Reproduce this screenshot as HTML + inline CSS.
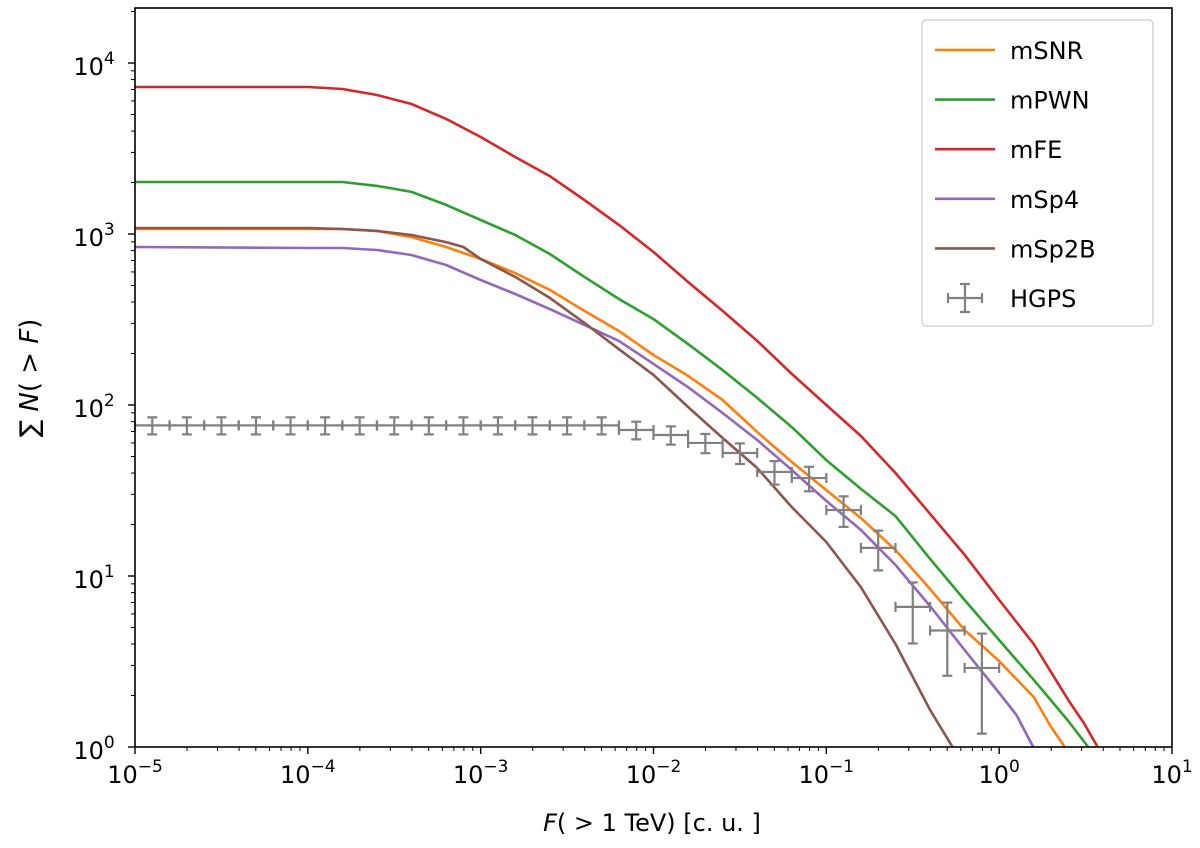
<!DOCTYPE html>
<html><head><meta charset="utf-8">
<style>
html,body{margin:0;padding:0;background:#fff;}
svg{display:block;font-family:"DejaVu Sans","Liberation Sans",sans-serif;}
</style></head>
<body>
<svg id="chart" width="1200" height="848">
  <rect x="135" y="8" width="1037" height="739" fill="#fff" stroke="none"/>
  <g id="grid-ticks"></g>
  <g id="series"></g>
  <g id="hgps"></g>
  <rect x="135" y="8" width="1037" height="739" fill="none" stroke="#000" stroke-width="1.6"/>
  <text x="652" y="831" font-size="24" text-anchor="middle"><tspan font-style="italic">F</tspan>( &gt; 1 TeV) [c. u. ]</text>
  <text transform="translate(38,378) rotate(-90)" font-size="26" text-anchor="middle">∑ <tspan font-style="italic">N</tspan>( &gt; <tspan font-style="italic">F</tspan>)</text>
  <g id="legend">
    <rect x="922" y="20" width="231" height="306" rx="4" fill="#fff" fill-opacity="0.8" stroke="#ccc" stroke-width="1.2"/>
  </g>
</svg>
<script>
// x values are log10(F); y values are counts N(>F)
const redX = [-5,-4,-3.8,-3.6,-3.4,-3.2,-3,-2.8,-2.6,-2.4,-2.2,-2,-1.8,-1.6,-1.4,-1.2,-1,-0.8,-0.6,-0.4,-0.2,0,0.2,0.4,0.49,0.57];
const redY = [7240,7240,7050,6500,5760,4710,3690,2820,2180,1580,1130,785,524,355,237,152,100,65.9,40,23.1,13.3,7.24,4.0,1.88,1.38,1];
const greenX = [-5,-4,-3.8,-3.6,-3.4,-3.2,-3,-2.8,-2.6,-2.4,-2.2,-2,-1.8,-1.6,-1.4,-1.2,-1,-0.8,-0.6,-0.4,-0.2,0,0.2,0.4,0.515];
const greenY = [2014,2014,2014,1910,1762,1480,1208,986,764,561,417,318,227,160,110,74.3,47.6,32.3,22.4,12.6,7.24,4.22,2.47,1.42,1];
const orangeX = [-5,-4,-3.8,-3.6,-3.4,-3.2,-3,-2.8,-2.6,-2.4,-2.2,-2,-1.8,-1.6,-1.4,-1.2,-1,-0.8,-0.6,-0.4,-0.2,0,0.2,0.3,0.38];
const orangeY = [1070,1070,1070,1043,959,839,714,591,471,355,271,196,148,107,69.5,46.4,31.8,21.8,14.2,8.4,4.83,3.18,1.96,1.31,1];
const purpleX = [-5,-4,-3.8,-3.6,-3.4,-3.2,-3,-2.8,-2.6,-2.4,-2.2,-2,-1.8,-1.6,-1.4,-1.2,-1,-0.8,-0.6,-0.4,-0.2,0,0.1,0.197];
const purpleY = [839,828,828,806,754,659,538,446,364,294,237,174,127,89.8,62.4,41.7,27.5,18.6,11.6,6.68,3.69,2.07,1.54,1];
const brownX = [-5,-4,-3.8,-3.6,-3.4,-3.2,-3.1,-3,-2.8,-2.6,-2.4,-2.2,-2,-1.8,-1.6,-1.4,-1.2,-1,-0.8,-0.6,-0.4,-0.27];
const brownY = [1084,1084,1070,1043,986,897,839,714,561,423,302,212,150,97.3,64.1,42.8,25.3,15.8,8.6,4.0,1.65,1];
const hgpsX = [-4.9,-4.7,-4.5,-4.3,-4.1,-3.9,-3.7,-3.5,-3.3,-3.1,-2.9,-2.7,-2.5,-2.3,-2.1,-1.9,-1.7,-1.5,-1.3,-1.1,-0.9,-0.7,-0.5,-0.3,-0.1];
const hgpsY = [76,76,76,76,76,76,76,76,76,76,76,76,76,76,71.4,66.8,60,52.4,40.6,37.4,24.3,14.6,6.6,4.8,2.9];
const xTickExp = [-5,-4,-3,-2,-1,0,1];
const yTickExp = [0,1,2,3,4];
const seriesNames = ["mSNR","mPWN","mFE","mSp4","mSp2B"];

const NS="http://www.w3.org/2000/svg";
const X0=135,X1=1172,XMIN=-5,XMAX=1,Y0=747,PPD=171;
const sx=l=>X0+(l-XMIN)/(XMAX-XMIN)*(X1-X0);
const sy=v=>Y0-Math.log10(v)*PPD;
function mk(tag,attrs,parent){const e=document.createElementNS(NS,tag);for(const k in attrs)e.setAttribute(k,attrs[k]);parent.appendChild(e);return e;}

const gt=document.getElementById('grid-ticks');
xTickExp.forEach(e=>{
  const x=sx(e);
  const t=mk('line',{x1:x,x2:x,y1:747,y2:754,stroke:'#000','stroke-width':1.4},gt);
  
  
  for(let m=2;m<10&&e<XMAX;m++){const xm=sx(e+Math.log10(m));const mt=mk('line',{x1:xm,x2:xm,y1:747,y2:751,stroke:'#000','stroke-width':1},gt);
    
    }
  const tx=mk('text',{x:x,y:783,'font-size':24,'text-anchor':'middle'},gt);
  
  
  tx.innerHTML='10<tspan dy="-11" font-size="17">'+(e<0?'−':'')+Math.abs(e)+'</tspan>';
});
yTickExp.forEach(e=>{
  const y=Y0-e*PPD;
  const t=mk('line',{x1:128,x2:135,y1:y,y2:y,stroke:'#000','stroke-width':1.4},gt);
  
  
  for(let m=2;m<10;m++){const ym=y-Math.log10(m)*PPD;if(ym<8)break;const mt=mk('line',{x1:131,x2:135,y1:ym,y2:ym,stroke:'#000','stroke-width':1},gt);
    
    }
  const tx=mk('text',{x:94,y:y+12,'font-size':24,'text-anchor':'middle'},gt);
  
  
  tx.innerHTML='10<tspan dy="-11" font-size="17">'+e+'</tspan>';
});

const sg=document.getElementById('series');
const defs=[[orangeX,orangeY,'#ff7f0e'],[greenX,greenY,'#2ca02c'],[redX,redY,'#d62728'],[purpleX,purpleY,'#9467bd'],[brownX,brownY,'#8c564b']];
defs.forEach((d,i)=>{
  const pts=d[0].map((x,j)=>sx(x).toFixed(1)+','+sy(d[1][j]).toFixed(1)).join(' ');
  const p=mk('polyline',{points:pts,fill:'none',stroke:d[2],'stroke-width':2.6,'stroke-linejoin':'round'},sg);
  
  
});

const hg=document.getElementById('hgps');
hgpsX.forEach((x,i)=>{
  const v=hgpsY[i],e=Math.sqrt(v);
  const g=mk('g',{stroke:'#808080','stroke-width':2.2},hg);
  
  
  const cx=sx(x),cy=sy(v),xl=sx(x-0.1),xr=sx(x+0.1),yt=sy(v+e),yb=sy(Math.max(v-e,1.0001));
  mk('line',{x1:xl,x2:xr,y1:cy,y2:cy},g);
  mk('line',{x1:cx,x2:cx,y1:yt,y2:Math.min(yb,747)},g);
  mk('line',{x1:xl,x2:xl,y1:cy-5,y2:cy+5},g);
  mk('line',{x1:xr,x2:xr,y1:cy-5,y2:cy+5},g);
  mk('line',{x1:cx-5,x2:cx+5,y1:yt,y2:yt},g);
  if(yb<747)mk('line',{x1:cx-5,x2:cx+5,y1:yb,y2:yb},g);
});

const lg=document.getElementById('legend');
const legCols=['#ff7f0e','#2ca02c','#d62728','#9467bd','#8c564b'];
const legNames=["mSNR","mPWN","mFE","mSp4","mSp2B","HGPS"];
legNames.forEach((n,i)=>{
  const y=50+i*49.6;
  const g=mk('g',{},lg);
  
  
  if(i<5){mk('line',{x1:935,x2:995,y1:y,y2:y,stroke:legCols[i],'stroke-width':2.6},g);}
  else{mk('line',{x1:948,x2:982,y1:y,y2:y,stroke:'#808080','stroke-width':2.2},g);
    mk('line',{x1:965,x2:965,y1:y-14,y2:y+14,stroke:'#808080','stroke-width':2.2},g);
    mk('line',{x1:948,x2:948,y1:y-5,y2:y+5,stroke:'#808080','stroke-width':2.2},g);
    mk('line',{x1:982,x2:982,y1:y-5,y2:y+5,stroke:'#808080','stroke-width':2.2},g);
    mk('line',{x1:960,x2:970,y1:y-14,y2:y-14,stroke:'#808080','stroke-width':2.2},g);
    mk('line',{x1:960,x2:970,y1:y+14,y2:y+14,stroke:'#808080','stroke-width':2.2},g);}
  const t=mk('text',{x:1010,y:y+9,'font-size':24},g);
  t.textContent=n;
});
</script>
</body></html>
